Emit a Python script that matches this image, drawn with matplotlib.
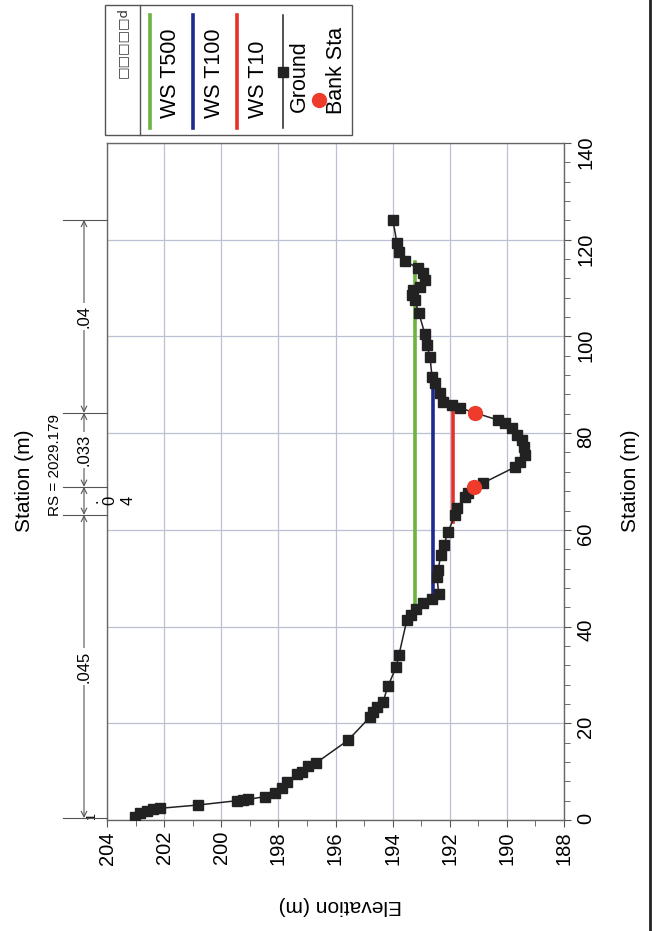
import matplotlib
matplotlib.use('Agg')
import matplotlib.pyplot as plt
import matplotlib.transforms as mtransforms
from matplotlib.lines import Line2D
from matplotlib.patches import Rectangle
from matplotlib.ticker import MultipleLocator, FormatStrFormatter

plt.rcParams['font.family'] = ['Liberation Sans', 'DejaVu Sans']

# ground survey points (station m, elevation m)
station = [0.56, 1.38, 1.93, 2.21, 2.42, 3.10, 3.99, 4.14, 4.28, 4.82, 5.52, 6.55,
           7.80, 9.51, 9.99, 11.17, 11.8, 16.5, 21.3, 22.3, 23.4, 24.4, 27.7, 31.6,
           34.1, 41.4, 42.4, 43.6, 44.9, 45.7, 46.7, 50.2, 51.7, 54.8, 56.9, 59.6,
           63.1, 64.5, 66.8, 67.6, 68.9, 69.7, 73.0, 74.0, 75.5, 77.1, 78.6, 79.6,
           81.1, 82.1, 82.7, 84.2, 85.2, 85.8, 86.4, 88.3, 90.4, 91.6, 95.7, 98.2,
           100.5, 104.8, 107.5, 108.6, 109.6, 110.2, 111.7, 113.1, 114.1, 115.6,
           117.5, 119.3, 124.1]
elevation = [203.02, 202.84, 202.60, 202.39, 202.14, 200.81, 199.45, 199.24, 199.06,
             198.47, 198.12, 197.87, 197.70, 197.35, 197.17, 196.96, 196.68, 195.56,
             194.79, 194.69, 194.55, 194.34, 194.16, 193.88, 193.78, 193.50, 193.36,
             193.18, 192.94, 192.62, 192.38, 192.45, 192.41, 192.31, 192.20, 192.06,
             191.81, 191.75, 191.47, 191.36, 191.15, 190.83, 189.71, 189.54, 189.36,
             189.40, 189.47, 189.64, 189.82, 190.06, 190.31, 191.11, 191.64, 191.92,
             192.24, 192.34, 192.52, 192.62, 192.69, 192.80, 192.87, 193.08, 193.22,
             193.32, 193.29, 193.04, 192.87, 192.94, 193.11, 193.57, 193.78, 193.85,
             193.99]

bank_station = [68.9, 84.2]
bank_elev = [191.15, 191.11]

ws_names = ['WS T500', 'WS T100', 'WS T10']
ws_elev = [193.22, 192.57, 191.90]
ws_from = [43.4, 46.4, 61.6]
ws_to = [115.3, 92.0, 86.0]
ws_colors = ['#6cb33f', '#1f2a8c', '#e8302a']

n_breaks = [0.4, 63.1, 68.9, 84.2, 124.1]
n_values = ['.045', '.04', '.033', '.04']

W, H = 656, 931
fig = plt.figure(figsize=(W / 100, H / 100), dpi=100)


def fx(px):
    return px / W


def fy(py):
    return 1 - py / H


ax = fig.add_axes([fx(107), fy(820), fx(564) - fx(107), fy(143) - fy(820)])
ax.set_xlim(204, 188)
ax.set_ylim(0, 140)
ax.xaxis.set_major_locator(MultipleLocator(2))
ax.xaxis.set_minor_locator(MultipleLocator(1))
ax.yaxis.set_major_locator(MultipleLocator(20))
ax.yaxis.set_minor_locator(MultipleLocator(4))
ax.xaxis.set_major_formatter(FormatStrFormatter('%d'))
ax.yaxis.set_major_formatter(FormatStrFormatter('%d'))
ax.yaxis.tick_right()
ax.tick_params(axis='x', which='both', bottom=True, top=False, direction='out',
               labelrotation=90, labelsize=14.5, color='#555', pad=3)
ax.tick_params(axis='y', which='both', right=True, left=False, direction='out',
               labelrotation=90, labelsize=14.5, color='#555', pad=4)
ax.tick_params(which='major', length=5)
ax.tick_params(which='minor', length=4)
ax.grid(True, which='major', color='#bcc0d2', lw=0.9)
ax.set_axisbelow(True)
for sp in ax.spines.values():
    sp.set_color('#666')
    sp.set_linewidth(1.0)

for name, e, s0, s1, c in zip(ws_names, ws_elev, ws_from, ws_to, ws_colors):
    ax.plot([e, e], [s0, s1], color=c, lw=2.6, zorder=3)
ax.plot(elevation, station, color='#222', lw=1.1, marker='s', ms=6.5,
        mfc='#222', mec='#222', zorder=4)
ax.plot(bank_elev, bank_station, 'o', color='#ee3b2b', ms=10, zorder=5)

# axis titles
fig.text(fx(340), fy(905), 'Elevation (m)', rotation=180, ha='center', va='center', fontsize=15)
fig.text(fx(630), fy(481), 'Station (m)', rotation=90, ha='center', va='center', fontsize=15)
fig.text(fx(25), fy(481), 'Station (m)', rotation=90, ha='center', va='center', fontsize=15)
fig.text(fx(55), fy(465), 'RS = 2029.179', rotation=90, ha='center', va='center', fontsize=11)

# manning's n dimension line
trans = mtransforms.blended_transform_factory(fig.transFigure, ax.transData)
for s in n_breaks:
    fig.add_artist(Line2D([fx(63), fx(107)], [s, s], transform=trans, color='#555', lw=0.8))
for i, val in enumerate(n_values):
    s0, s1 = n_breaks[i], n_breaks[i + 1]
    ax.annotate('', xy=(fx(84), s1), xycoords=trans, xytext=(fx(84), s0), textcoords=trans,
                arrowprops=dict(arrowstyle='<->', color='#555', lw=0.8, shrinkA=0, shrinkB=0),
                annotation_clip=False)
    mid = (s0 + s1) / 2
    if s1 - s0 < 10:
        for ch, px in zip(val, [93, 110, 128]):
            ax.text(fx(px), mid, ch, transform=trans, rotation=90, ha='center',
                    va='center', fontsize=12, clip_on=False)
    else:
        ax.text(fx(84), mid, val, transform=trans, rotation=90, ha='center', va='center',
                fontsize=12, clip_on=False,
                bbox=dict(fc='white', ec='none', pad=1.5))
ax.text(fx(92), 0.8, '1', transform=trans, rotation=90, ha='center', va='center',
        fontsize=9, clip_on=False)

# legend box
fig.add_artist(Rectangle((fx(105), fy(135)), fx(352) - fx(105), fy(5) - fy(135),
                         transform=fig.transFigure, fill=False, ec='#555', lw=1))
fig.add_artist(Line2D([fx(140), fx(140)], [fy(5), fy(135)], color='#555', lw=1))
fig.text(fx(122), fy(78), '\u25a1\u25a1\u25a1\u25a1\u25a1d', rotation=90, rotation_mode='anchor',
         ha='left', va='center', fontsize=9.5, color='#333', family=['DejaVu Sans'])
leg_x = [150, 193, 237]
for name, c, lx in zip(ws_names, ws_colors, leg_x):
    fig.add_artist(Line2D([fx(lx), fx(lx)], [fy(128), fy(15)], color=c, lw=2.6))
    fig.text(fx(lx + 21), fy(118), name, rotation=90, rotation_mode='anchor',
             ha='left', va='center', fontsize=15.5)
fig.add_artist(Line2D([fx(283), fx(283)], [fy(128), fy(15)], color='#222', lw=1.1))
fig.add_artist(Line2D([fx(283)], [fy(72)], color='#222', marker='s', ms=6.5, lw=0))
fig.text(fx(299), fy(112), 'Ground', rotation=90, rotation_mode='anchor',
         ha='left', va='center', fontsize=15.5)
fig.add_artist(Line2D([fx(319)], [fy(100)], color='#ee3b2b', marker='o', ms=10, lw=0))
fig.text(fx(337), fy(114), 'Bank Sta', rotation=90, rotation_mode='anchor',
         ha='left', va='center', fontsize=15.5)

# page border
fig.add_artist(Line2D([fx(650), fx(650)], [0, 1], color='#222', lw=2))

fig.savefig('out.png', dpi=100)
